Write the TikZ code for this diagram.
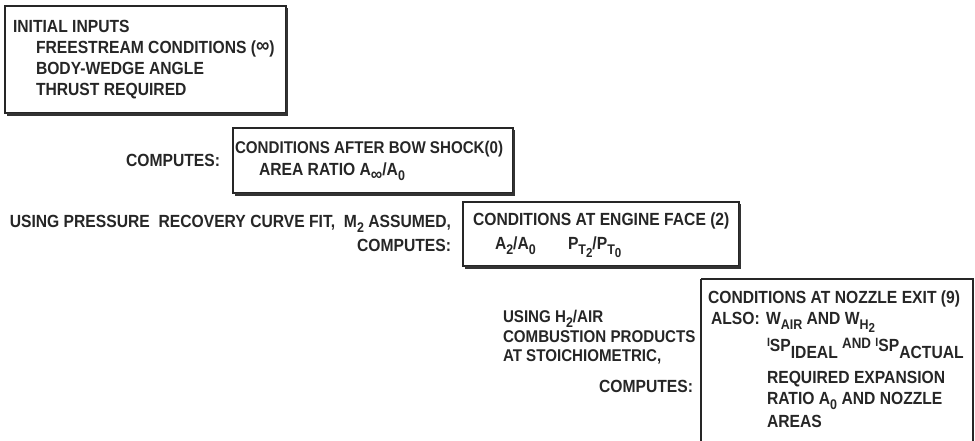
\documentclass[tikz,border=0pt]{standalone}
\usepackage{fontspec}
\setmainfont{Liberation Sans}[FakeStretch=0.89]
\newcommand{\lo}[1]{\raisebox{-5pt}{\fontsize{14}{14}\selectfont #1}}
\newcommand{\lolo}[1]{\raisebox{-3.5pt}{\fontsize{13}{13}\selectfont #1}}
\newcommand{\smallI}{\raisebox{12pt}{\fontsize{12}{12}\selectfont I}}
\newcommand{\infsym}{\raisebox{0.5pt}{\fontsize{21}{21}\selectfont ∞}}
\begin{document}
\begin{tikzpicture}[x=1pt,y=-1pt,
  txt/.style={inner sep=0pt,outer sep=0pt,font=\fontsize{17.6}{20}\bfseries\selectfont,text=black!85},
  lft/.style={txt,anchor=base west},
  rgt/.style={txt,anchor=base east},
  narrow/.style={font=\fontsize{17}{20}\bfseries\selectfont},
  frame/.style={draw=black!85,line width=1.3pt},
  shade/.style={draw=black!80,line width=2.6pt}]
\useasboundingbox (0,0) rectangle (975,440);
% box 1
\draw[frame] (5,6) rectangle (286,113);
\draw[shade] (287,8) -- (287,114.5) -- (7,114.5);
\node[lft] (i1) at (13,32) {INITIAL INPUTS};
\node[lft] (i2) at (36,53) {FREESTREAM CONDITIONS (\infsym)};
\node[lft] (i3) at (36,74) {BODY-WEDGE ANGLE};
\node[lft] (i4) at (36,95) {THRUST REQUIRED};
% box 2
\draw[frame] (233,128) rectangle (513,193);
\draw[shade] (514,130) -- (514,194.5) -- (235,194.5);
\node[rgt] (c2) at (220,166) {COMPUTES:};
\node[lft,narrow] (b1) at (235,153) {CONDITIONS AFTER BOW SHOCK(0)};
\node[lft] (b2) at (259,175) {AREA RATIO A\raisebox{-5pt}{\fontsize{18}{18}\selectfont ∞}/A\lo{0}};
% box 3
\draw[frame] (463,202) rectangle (739,266);
\draw[shade] (740,204) -- (740,267.5) -- (465,267.5);
\node[rgt] (u1) at (451,227) {USING PRESSURE\ \ RECOVERY CURVE FIT,\ \ M\lo{2} ASSUMED,};
\node[rgt] (c3) at (451,251) {COMPUTES:};
\node[lft] (e1) at (473,225) {CONDITIONS AT ENGINE FACE (2)};
\node[lft] (e2) at (495,249) {A\lo{2}/A\lo{0}};
\node[lft] (e3) at (568,249) {P\lo{T\lolo{2}}/P\lo{T\lolo{0}}};
% box 4
\draw[frame] (701,279) -- (973,279) -- (973,445);
\draw[frame] (701,279) -- (701,445);
\node[lft,narrow] (h1) at (503,322) {USING H\lo{2}/AIR};
\node[lft,narrow] (h2) at (503,342) {COMBUSTION PRODUCTS};
\node[lft,narrow] (h3) at (503,361) {AT STOICHIOMETRIC,};
\node[rgt] (c4) at (693,392) {COMPUTES:};
\node[lft] (n1) at (708,303) {CONDITIONS AT NOZZLE EXIT (9)};
\node[lft] (n2) at (711,324) {ALSO:};
\node[lft] (n3) at (766,324) {W\lo{AIR} AND W\lo{H\lolo{2}}};
\node[lft] (n4) at (767,358) {\smallI\raisebox{7pt}{SP}IDEAL \raisebox{10pt}{\fontsize{15}{15}\selectfont AND} \smallI\raisebox{7pt}{SP}ACTUAL};
\node[lft] (n5) at (767,383) {REQUIRED EXPANSION};
\node[lft] (n6) at (767,404) {RATIO A\lo{0} AND NOZZLE};
\node[lft] (n7) at (767,427) {AREAS};
\end{tikzpicture}
\end{document}
